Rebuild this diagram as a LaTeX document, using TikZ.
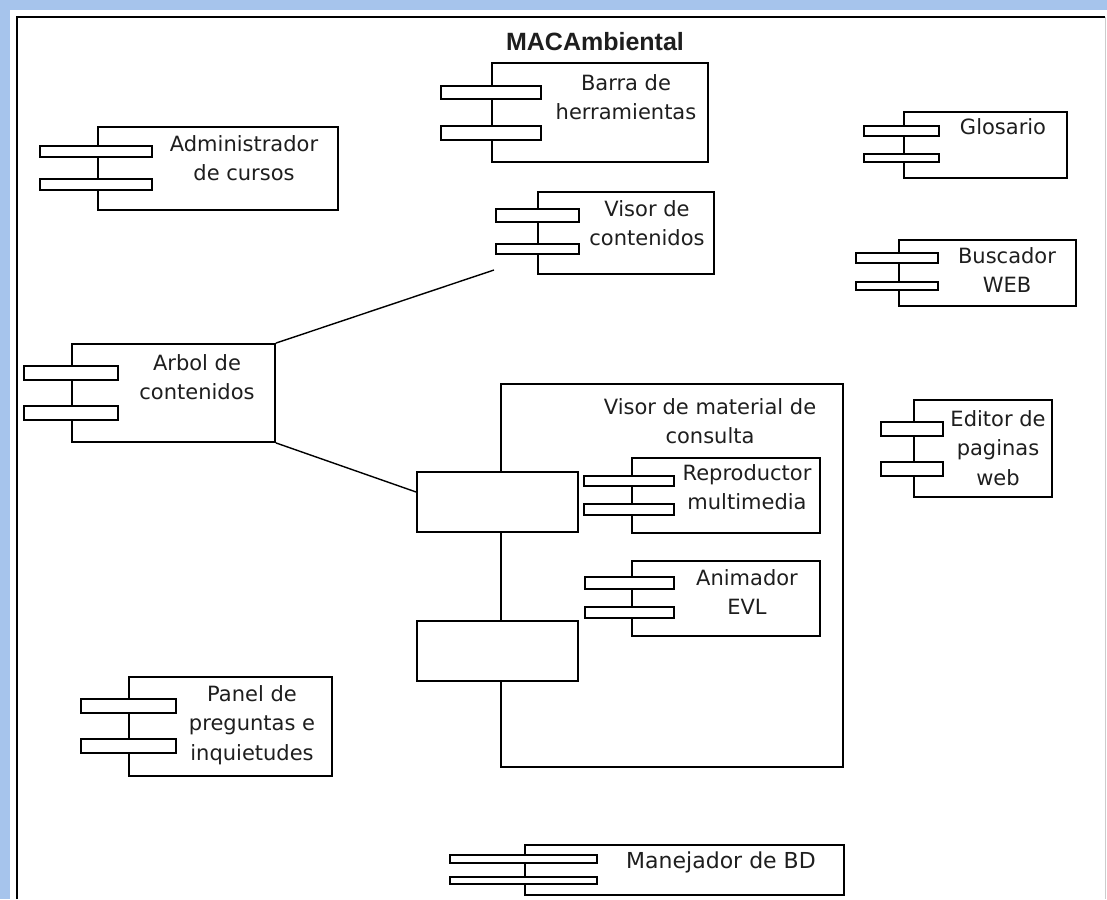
\documentclass[tikz,border=0pt]{standalone}
\usepackage{fontspec}
\setmainfont{DejaVu Sans}
\newfontfamily\lblfontfam{DejaVu Sans}
\newfontfamily\titlefam{Liberation Sans}
\usetikzlibrary{fit}
\definecolor{winblue}{RGB}{166,196,236}
\definecolor{txt}{RGB}{30,30,30}
\tikzset{
  body/.style={draw, line width=1.8pt, fill=white, inner sep=0pt, rectangle},
  tabbox/.style={draw, line width=1.8pt, fill=white, inner sep=0pt, rectangle},
  lbl/.style={font=\lblfontfam\fontsize{21}{29.5}\selectfont, align=center, text=txt, inner sep=0pt},
  conn/.style={line width=1.4pt},
}
\begin{document}
\begin{tikzpicture}[x=1pt,y=-1pt]
\useasboundingbox (0,0) rectangle (1107,899);
\fill[white] (0,0) rectangle (1107,899);
% window chrome
\fill[winblue] (0,0) rectangle (10,899);
\fill[winblue] (0,0) rectangle (1107,10);
\draw[line width=2pt] (17,899) -- (17,17) -- (1105,17);
\draw[line width=1pt, black!20] (1105,17) -- (1105,899);

% title
\node[font=\titlefam\bfseries\fontsize{25}{30}\selectfont, text=txt, inner sep=0pt] (title) at (595,42) {MACAmbiental};

% Administrador de cursos
\node[body, fit={(98,127)(338,210)}] (adm) {};
\node[tabbox, fit={(40,146)(152,157)}] (adm1) {};
\node[tabbox, fit={(40,179)(152,190)}] (adm2) {};
\node[lbl] (admt) at (244,158) {Administrador\\de cursos};

% Barra de herramientas
\node[body, fit={(492,63)(708,162)}] (bar) {};
\node[tabbox, fit={(441,86)(541,99)}] (bar1) {};
\node[tabbox, fit={(441,126)(541,140)}] (bar2) {};
\node[lbl] (bart) at (626,97) {Barra de\\herramientas};

% Visor de contenidos
\node[body, fit={(538,192)(714,274)}] (vdc) {};
\node[tabbox, fit={(496,209)(579,222)}] (vdc1) {};
\node[tabbox, fit={(496,244)(579,254)}] (vdc2) {};
\node[lbl] (vdct) at (647,223) {Visor de\\contenidos};
\coordinate (vdcend) at (494,270);

% Glosario
\node[body, fit={(904,112)(1067,178)}] (glo) {};
\node[tabbox, fit={(864,126)(939,136)}] (glo1) {};
\node[tabbox, fit={(864,154)(939,162)}] (glo2) {};
\node[lbl] (glot) at (1003,127) {Glosario};

% Buscador WEB
\node[body, fit={(899,240)(1076,306)}] (bus) {};
\node[tabbox, fit={(856,253)(938,263)}] (bus1) {};
\node[tabbox, fit={(856,282)(938,290)}] (bus2) {};
\node[lbl] (bust) at (1007,270) {Buscador\\WEB};

% Editor de paginas web
\node[body, fit={(914,400)(1052,497)}] (edi) {};
\node[tabbox, fit={(881,422)(943,436)}] (edi1) {};
\node[tabbox, fit={(881,462)(943,476)}] (edi2) {};
\node[lbl] (edit) at (998,448) {Editor de\\paginas\\web};

% Arbol de contenidos
\node[body, fit={(72,344)(275,442)}] (arb) {};
\node[tabbox, fit={(24,366)(118,380)}] (arb1) {};
\node[tabbox, fit={(24,406)(118,420)}] (arb2) {};
\node[lbl] (arbt) at (197,377) {Arbol de\\contenidos};

% Visor de material de consulta
\node[body, fit={(501,384)(843,767)}] (vmc) {};
\node[tabbox, fit={(417,472)(578,532)}] (vmc1) {};
\node[tabbox, fit={(417,621)(578,681)}] (vmc2) {};
\node[lbl] (vmct) at (710,421) {Visor de material de\\consulta};

% Reproductor multimedia
\node[body, fit={(632,458)(820,533)}] (rep) {};
\node[tabbox, fit={(584,476)(674,486)}] (rep1) {};
\node[tabbox, fit={(584,504)(674,515)}] (rep2) {};
\node[lbl] (rept) at (747,487) {Reproductor\\multimedia};

% Animador EVL
\node[body, fit={(632,561)(820,636)}] (ani) {};
\node[tabbox, fit={(585,577)(674,589)}] (ani1) {};
\node[tabbox, fit={(585,607)(674,618)}] (ani2) {};
\node[lbl] (anit) at (747,592) {Animador\\EVL};

% Panel de preguntas e inquietudes
\node[body, fit={(129,677)(332,776)}] (pan) {};
\node[tabbox, fit={(81,699)(176,713)}] (pan1) {};
\node[tabbox, fit={(81,739)(176,753)}] (pan2) {};
\node[lbl] (pant) at (252,725) {Panel de\\preguntas e\\inquietudes};

% Manejador de BD
\node[body, fit={(525,845)(844,895)}] (man) {};
\node[tabbox, fit={(450,855)(597,863)}] (man1) {};
\node[tabbox, fit={(450,877)(597,884)}] (man2) {};
\node[lbl, font=\lblfontfam\fontsize{22}{29.5}\selectfont] (mant) at (721,862) {Manejador de BD};

% connectors
\draw[conn] (arb.north east) -- (vdcend);
\draw[conn] (arb.south east) -- ([yshift=10pt]vmc1.west);
\end{tikzpicture}
\end{document}
